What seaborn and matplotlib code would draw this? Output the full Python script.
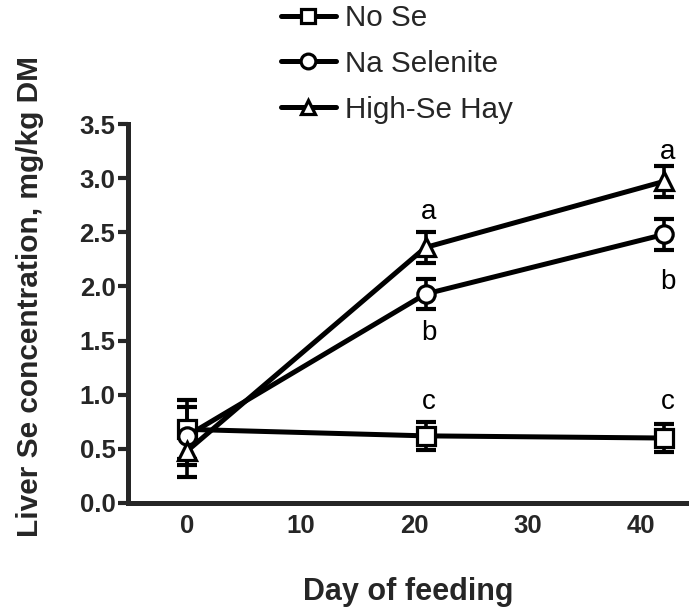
import matplotlib
matplotlib.use("Agg")
import matplotlib.pyplot as plt
import seaborn as sns
import pandas as pd

# Liver Se concentration (mean and SEM) by treatment and day of feeding
days = [0, 21, 42]
groups = ["No Se", "Na Selenite", "High-Se Hay"]
no_se = [0.68, 0.62, 0.60]
no_se_sem = [0.27, 0.13, 0.13]
na_selenite = [0.62, 1.93, 2.48]
na_selenite_sem = [0.27, 0.14, 0.14]
high_se_hay = [0.48, 2.36, 2.97]
high_se_hay_sem = [0.24, 0.14, 0.14]

# significance letters: (day, y position, letter)
letter_days = [21, 21, 21, 42, 42, 42]
letter_y = [2.69, 1.57, 0.93, 3.24, 2.04, 0.93]
letters = ["a", "b", "c", "a", "b", "c"]

means = [no_se, na_selenite, high_se_hay]
sems = [no_se_sem, na_selenite_sem, high_se_hay_sem]
df = pd.DataFrame({
    "Day": days * 3,
    "Group": [g for g in groups for _ in days],
    "Se": [v for m in means for v in m],
    "SEM": [v for s in sems for v in s],
})

sns.set_style("ticks")
plt.rcParams["font.family"] = ["Liberation Sans", "DejaVu Sans"]

fig = plt.figure(figsize=(6.89, 6.09), dpi=100)
ax = fig.add_axes([128 / 689, 106 / 609, 561 / 689, 379 / 609])

markers = {"No Se": "s", "Na Selenite": "o", "High-Se Hay": "^"}
palette = {g: "black" for g in groups}

# error bars first, markers drawn over them
for g in groups:
    sub = df[df["Group"] == g]
    ax.errorbar(sub["Day"], sub["Se"], yerr=sub["SEM"], fmt="none",
                ecolor="black", elinewidth=2.6, capsize=7, capthick=3, zorder=2)

sns.lineplot(data=df, x="Day", y="Se", hue="Group", style="Group",
             markers=markers, dashes=False, palette=palette,
             hue_order=groups, style_order=groups,
             linewidth=3.6, markersize=12.5, markerfacecolor="white",
             markeredgecolor="black", markeredgewidth=2.3,
             ax=ax, zorder=3, legend=True)

for d, y, t in zip(letter_days, letter_y, letters):
    ax.text(d + 0.3, y, t, ha="center", va="center", fontsize=20, color="black")

ax.set_xlim(-5.2, 44.2)
ax.set_ylim(0, 3.5)
yticks = [0.0, 0.5, 1.0, 1.5, 2.0, 2.5, 3.0, 3.5]
ax.set_xticks([0, 10, 20, 30, 40])
ax.set_yticks(yticks)
ax.set_yticklabels([f"{v:.1f}" for v in yticks])
ax.tick_params(axis="y", length=7, width=3, labelsize=18.5, pad=2)
ax.tick_params(axis="x", length=0, labelsize=18.5, pad=8)
for lab in ax.get_xticklabels() + ax.get_yticklabels():
    lab.set_fontweight("bold")

for side in ["left", "bottom"]:
    ax.spines[side].set_linewidth(3.6)
sns.despine(ax=ax)

ax.set_xlabel("Day of feeding", fontsize=22, fontweight="bold")
ax.xaxis.set_label_coords(0.5, -0.195)
ax.set_ylabel("Liver Se concentration, mg/kg DM", fontsize=21.5,
              fontweight="bold")
ax.yaxis.set_label_coords(-0.150, 0.546)

handles, labels = ax.get_legend_handles_labels()
ax.get_legend().remove()
fig.legend(handles, labels, loc="upper left",
           bbox_to_anchor=(281 / 689, 1 - 4 / 609),
           bbox_transform=fig.transFigure, frameon=False, fontsize=21.3,
           handlelength=1.85, handletextpad=0.3, labelspacing=0.6,
           borderpad=0, borderaxespad=0, markerscale=0.85)

fig.savefig("out.png", dpi=100)
